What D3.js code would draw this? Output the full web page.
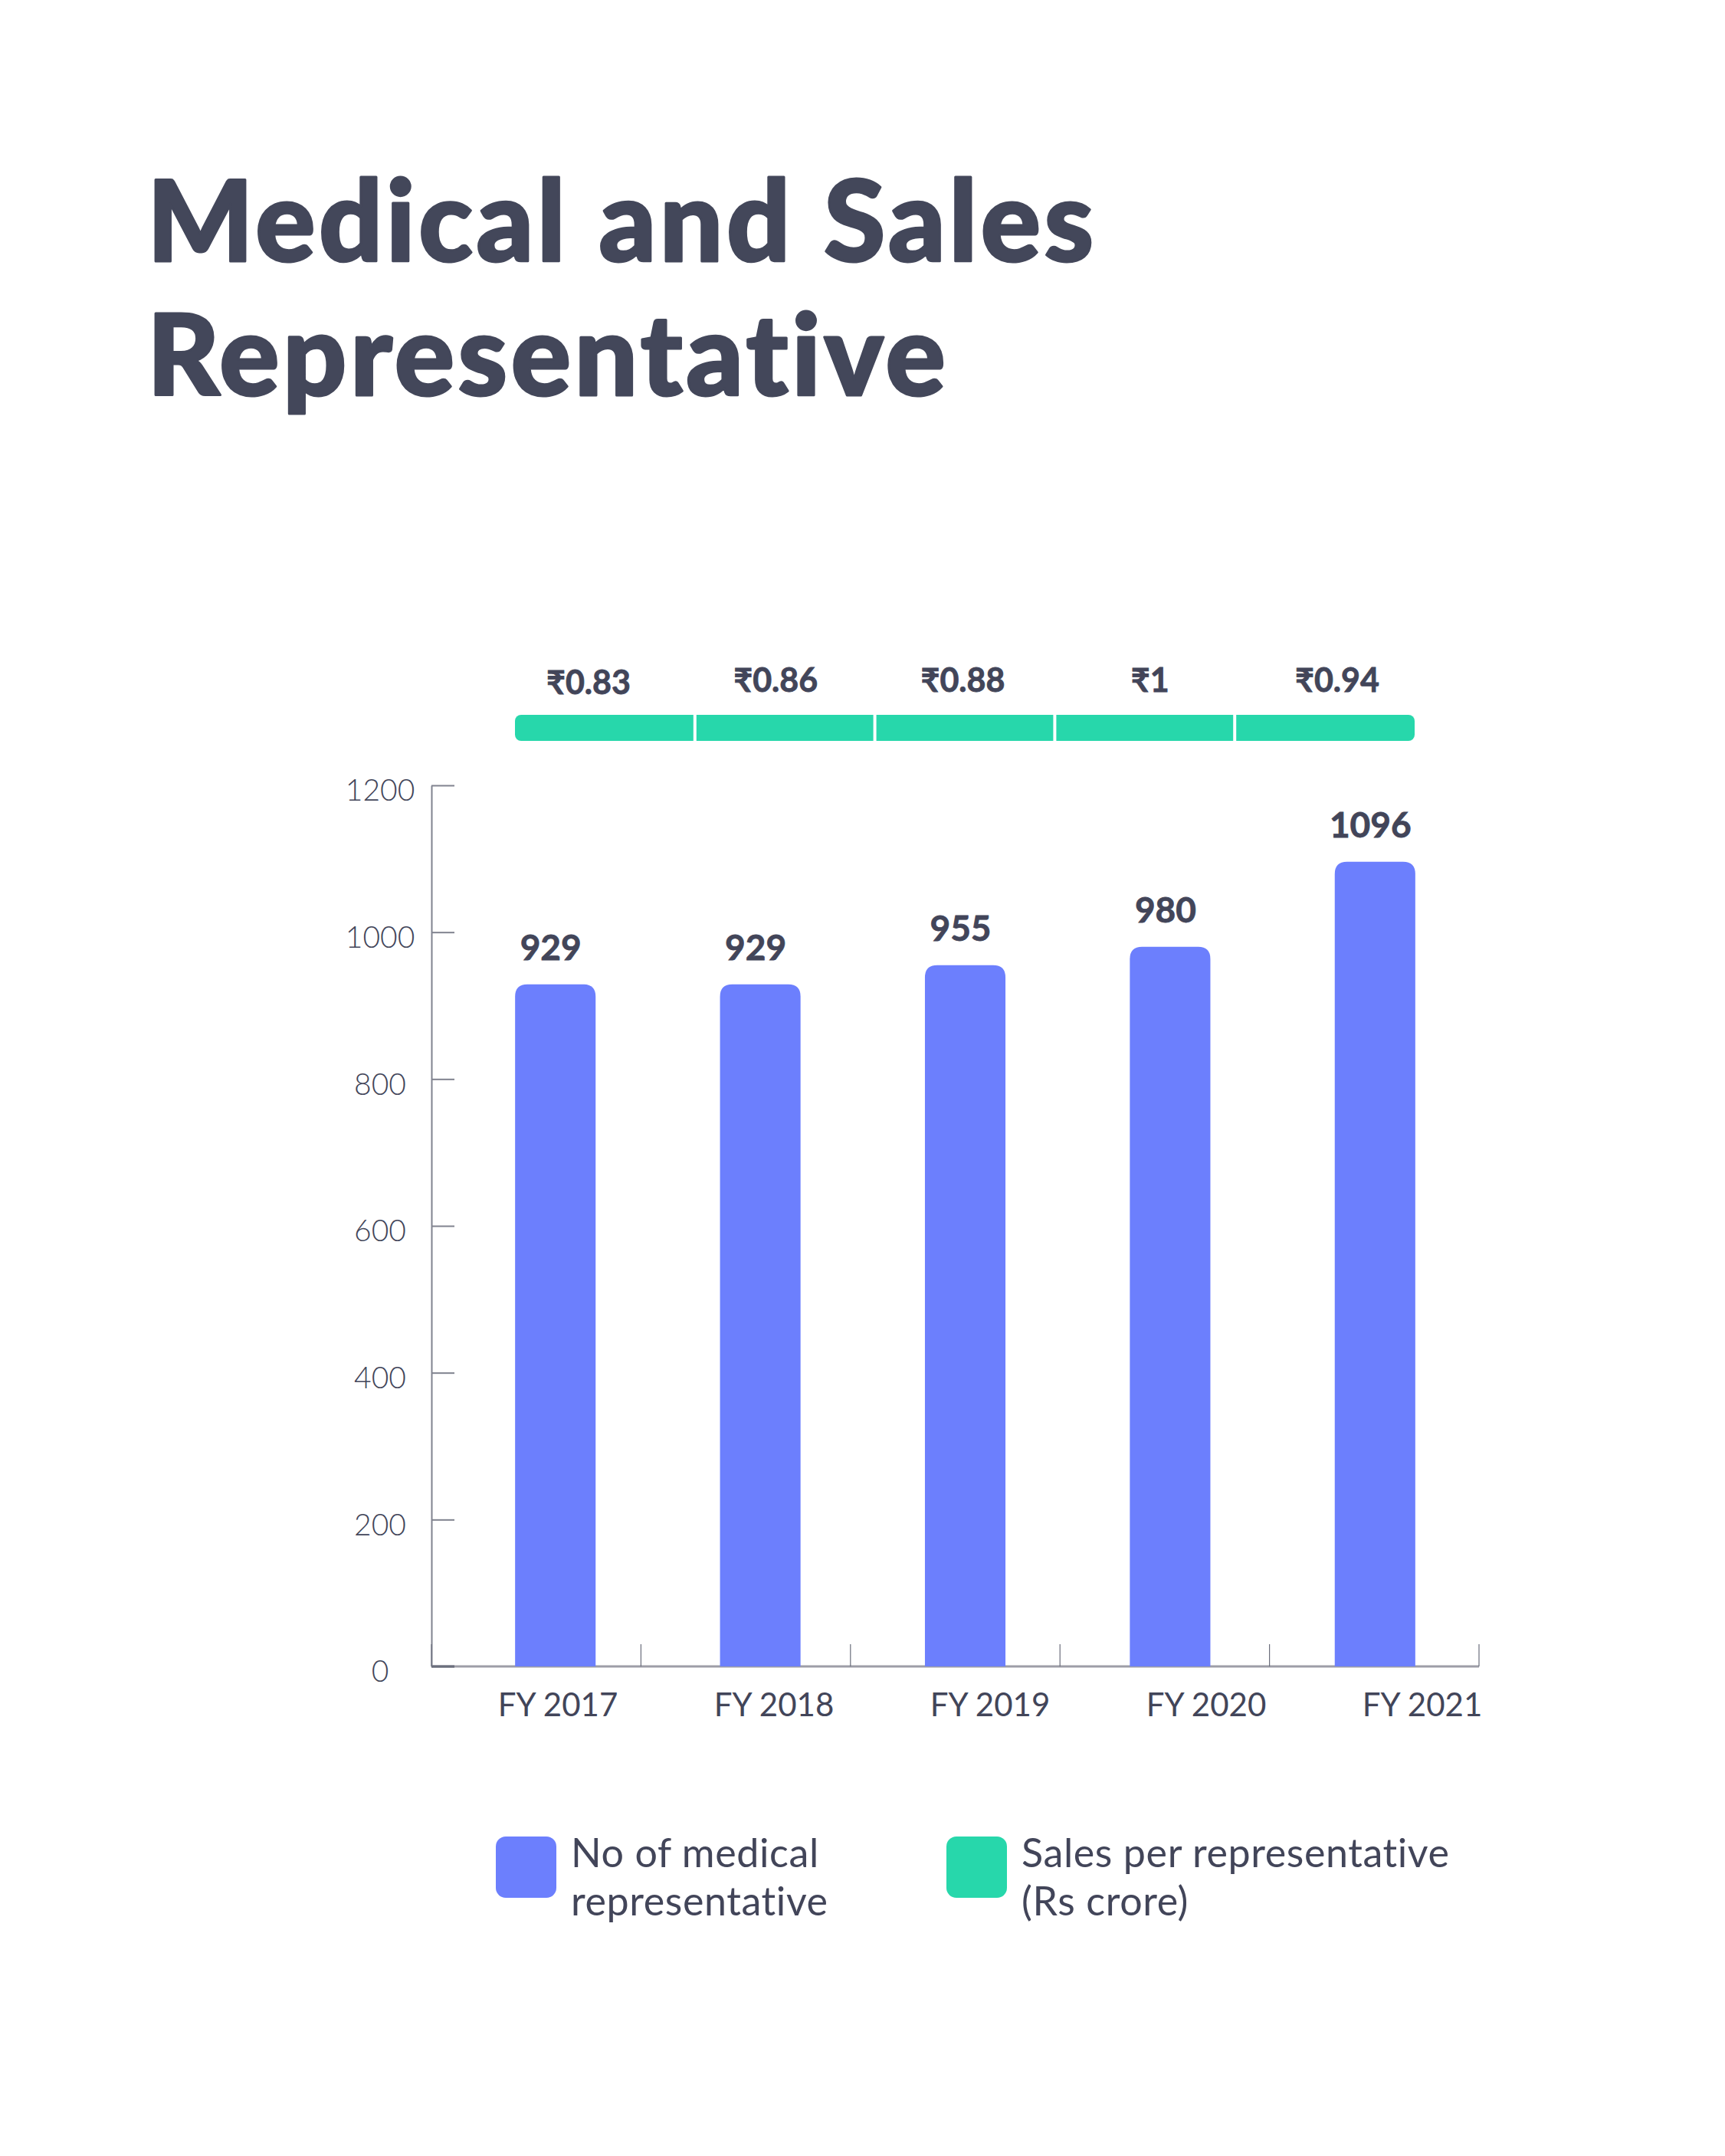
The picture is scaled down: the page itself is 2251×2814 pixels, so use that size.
<!DOCTYPE html>
<html>
<head>
<meta charset="utf-8">
<script src="https://cdn.jsdelivr.net/npm/d3@7"></script>
<style>
  html, body { margin: 0; padding: 0; background: #ffffff; }
  svg { display: block; }
  text { font-variant-ligatures: none; }
</style>
</head>
<body>
<script>
// ---- data ----
const categories = ["FY 2017", "FY 2018", "FY 2019", "FY 2020", "FY 2021"];
const repCounts = [929, 929, 955, 980, 1096];
const salesPerRep = [0.83, 0.86, 0.88, 1, 0.94];
const salesLabels = ["₹0.83", "₹0.86", "₹0.88", "₹1", "₹0.94"];
const yTickValues = [0, 200, 400, 600, 800, 1000, 1200];
const titleLines = ["Medical and Sales", "Representative"];
const legendNames = [["No of medical", "representative"], ["Sales per representative", "(Rs crore)"]];

// ---- styles ----
const W = 2251, H = 2814;
const TEXT = "#424559";
const BLUE = "#6c7ffd";
const GREEN = "#27d7ab";
const FONT = "Lato, 'Noto Sans', 'DejaVu Sans', sans-serif";

const svg = d3.select("body").append("svg")
  .attr("width", W).attr("height", H)
  .attr("viewBox", `0 0 ${W} ${H}`);
svg.append("rect").attr("width", W).attr("height", H).attr("fill", "#fff");

// title
svg.append("g").selectAll("text").data(titleLines).join("text")
  .attr("x", 192)
  .attr("y", (d, i) => 341 + i * 175)
  .attr("fill", "#43475a")
  .attr("stroke", "#43475a")
  .attr("stroke-width", 3)
  .attr("stroke-linejoin", "round")
  .attr("font-family", FONT)
  .attr("font-weight", 900)
  .attr("font-size", 146)
  .attr("letter-spacing", 4.5)
  .text(d => d);

// scales
const y = d3.scaleLinear().domain([0, 1200]).range([2175, 1025]);
const xAxisBand = d3.scaleBand().domain(categories).range([563, 1930]);
const xBar = d3.scaleBand().domain(categories).range([591, 1928])
  .paddingInner(0.607).paddingOuter(0.3035);
const xLabel = d3.scalePoint().domain(categories).range([728, 1856]);
const seg = d3.scaleBand().domain(categories).range([672, 1846]);
const segLabel = d3.scalePoint().domain(categories).range([768, 1745]);

// y axis
const yAxis = svg.append("g")
  .attr("transform", "translate(563,0)")
  .call(d3.axisLeft(y).tickValues(yTickValues).tickSize(-30).tickSizeOuter(0).tickFormat(d3.format("d")));
yAxis.select(".domain").attr("stroke", "#80838f").attr("stroke-width", 2);
yAxis.selectAll(".tick line").attr("stroke", "#80838f").attr("stroke-width", 2);
yAxis.selectAll(".tick text")
  .attr("x", -67).attr("dy", null)
  .attr("y", 10)
  .attr("dominant-baseline", "middle")
  .attr("text-anchor", "middle")
  .attr("fill", TEXT)
  .attr("font-family", FONT)
  .attr("font-weight", 300)
  .attr("font-size", 39);

// x axis baseline + boundary ticks
const xg = svg.append("g");
xg.append("line")
  .attr("x1", xAxisBand.range()[0]).attr("x2", xAxisBand.range()[1])
  .attr("y1", y(0)).attr("y2", y(0))
  .attr("stroke", "#9d9da7").attr("stroke-width", 3);
const boundaries = categories.map(c => xAxisBand(c)).concat([xAxisBand.range()[1]]);
xg.selectAll("line.b").data(boundaries).join("line").attr("class", "b")
  .attr("x1", d => d).attr("x2", d => d)
  .attr("y1", y(0)).attr("y2", y(0) - 29)
  .attr("stroke", "#6b6e7c").attr("stroke-width", 1.2);
xg.append("line")
  .attr("x1", 563).attr("x2", 593).attr("y1", y(0)).attr("y2", y(0))
  .attr("stroke", "#6b6e7c").attr("stroke-width", 3);
xg.selectAll("text").data(categories).join("text")
  .attr("x", d => xLabel(d))
  .attr("y", 2240)
  .attr("text-anchor", "middle")
  .attr("fill", TEXT)
  .attr("font-family", FONT)
  .attr("font-size", 42)
  .text(d => d);

// bars with rounded tops
function topRounded(x, yTop, w, yBase, r) {
  return `M${x},${yBase}V${yTop + r}Q${x},${yTop} ${x + r},${yTop}H${x + w - r}Q${x + w},${yTop} ${x + w},${yTop + r}V${yBase}Z`;
}
const barData = categories.map((c, i) => ({ c, v: repCounts[i] }));
svg.append("g").selectAll("path").data(barData).join("path")
  .attr("d", d => topRounded(xBar(d.c), y(d.v), xBar.bandwidth(), y(0), 16))
  .attr("fill", BLUE);
svg.append("g").selectAll("text").data(barData).join("text")
  .attr("x", d => xBar(d.c) + xBar.bandwidth() / 2 - 6)
  .attr("y", d => y(d.v) - 32)
  .attr("text-anchor", "middle")
  .attr("fill", TEXT)
  .attr("stroke", TEXT)
  .attr("stroke-width", 0.8)
  .attr("font-family", FONT)
  .attr("font-weight", 700)
  .attr("font-size", 46)
  .text(d => d.v);

// sales per representative strip
const segY = 933, segH = 34;
svg.append("clipPath").attr("id", "segclip")
  .append("rect")
  .attr("x", seg.range()[0]).attr("y", segY)
  .attr("width", seg.range()[1] - seg.range()[0]).attr("height", segH)
  .attr("rx", 8);
const segG = svg.append("g").attr("clip-path", "url(#segclip)");
const salesData = categories.map((c, i) => ({ c, v: salesPerRep[i], label: salesLabels[i] }));
segG.selectAll("rect").data(salesData).join("rect")
  .attr("x", d => seg(d.c)).attr("y", segY)
  .attr("width", seg.bandwidth()).attr("height", segH)
  .attr("fill", GREEN);
segG.selectAll("line").data(categories.slice(1)).join("line")
  .attr("x1", d => seg(d)).attr("x2", d => seg(d))
  .attr("y1", segY).attr("y2", segY + segH)
  .attr("stroke", "#fff").attr("stroke-width", 4);
svg.append("g").selectAll("text").data(salesData).join("text")
  .attr("x", d => segLabel(d.c))
  .attr("y", (d, i) => i === 0 ? 906 : 903)
  .attr("text-anchor", "middle")
  .attr("fill", TEXT)
  .attr("stroke", TEXT)
  .attr("stroke-width", 0.8)
  .attr("font-family", FONT)
  .attr("font-weight", 700)
  .attr("font-size", 43)
  .text(d => d.label);

// legend
const legendColors = [BLUE, GREEN];
const legendX = [647, 1235];
const lg = svg.append("g");
legendNames.forEach((lines, i) => {
  lg.append("rect")
    .attr("x", legendX[i]).attr("y", 2397)
    .attr("width", 79).attr("height", 80).attr("rx", 13)
    .attr("fill", legendColors[i]);
  lg.append("g").selectAll("text").data(lines).join("text")
    .attr("x", legendX[i] + 98)
    .attr("y", (d, j) => 2437 + j * 63)
    .attr("fill", TEXT)
    .attr("font-family", FONT)
    .attr("font-size", 52)
    .attr("letter-spacing", 0.6)
    .text(d => d);
});
</script>
</body>
</html>
